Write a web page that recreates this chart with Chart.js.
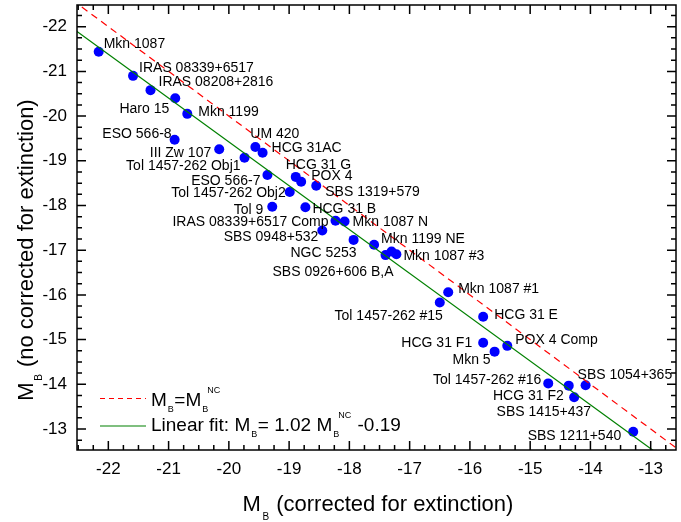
<!DOCTYPE html>
<html>
<head>
<meta charset="utf-8">
<script src="https://cdn.jsdelivr.net/npm/chart.js@4.4.1/dist/chart.umd.min.js"></script>
<style>
html,body{margin:0;padding:0;background:#fff;}
canvas{display:block;}
</style>
</head>
<body>
<canvas id="c" width="681" height="522"></canvas>
<script>
// ---------------- DATA ----------------
const galaxyNames = [
  "Mkn 1087", "IRAS 08339+6517", "IRAS 08208+2816", "Haro 15", "Mkn 1199",
  "ESO 566-8", "III Zw 107", "UM 420", "HCG 31AC", "Tol 1457-262 Obj1",
  "ESO 566-7", "HCG 31 G", "POX 4", "SBS 1319+579", "Tol 1457-262 Obj2",
  "Tol 9", "HCG 31 B", "IRAS 08339+6517 Comp", "Mkn 1087 N", "SBS 0948+532",
  "NGC 5253", "Mkn 1199 NE", "SBS 0926+606 B,A", "", "Mkn 1087 #3",
  "Mkn 1087 #1", "Tol 1457-262 #15", "HCG 31 E", "HCG 31 F1", "Mkn 5",
  "POX 4 Comp", "Tol 1457-262 #16", "HCG 31 F2", "SBS 1415+437", "SBS 1054+365",
  "SBS 1211+540"
];
// M_B corrected for extinction (x)
const mbCorrected = [
  -22.16, -21.59, -21.30, -20.89, -20.69,
  -20.90, -20.16, -19.56, -19.44, -19.74,
  -19.36, -18.89, -18.80, -18.55, -18.99,
  -19.28, -18.73, -18.23, -18.08, -18.45,
  -17.93, -17.59, -17.40, -17.30, -17.22,
  -16.36, -16.50, -15.78, -15.78, -15.59,
  -15.38, -14.70, -14.36, -14.27, -14.08,
  -13.29
];
// M_B not corrected for extinction (y)
const mbUncorrected = [
  -21.44, -20.90, -20.58, -20.40, -20.05,
  -19.47, -19.26, -19.31, -19.18, -19.07,
  -18.68, -18.64, -18.53, -18.44, -18.30,
  -17.97, -17.96, -17.66, -17.64, -17.44,
  -17.23, -17.12, -16.89, -16.97, -16.91,
  -16.06, -15.83, -15.51, -14.93, -14.73,
  -14.86, -14.02, -13.97, -13.71, -13.98,
  -12.94
];
// Reference lines (end points)
const identityLineX = [-22.6, -12.5];
const identityLineY = [-22.6, -12.5];
const fitLineX = [-22.6, -12.5];
const fitLineY = [-21.97, -12.07];
// Tick labels
const xTickValues = [-22, -21, -20, -19, -18, -17, -16, -15, -14, -13];
const yTickValues = [-22, -21, -20, -19, -18, -17, -16, -15, -14, -13];

// ---------------- LABEL PLACEMENT (pixels relative to point) ----------------
const labelPlacement = [
  ['l', 5, -9], ['l', 6, -9], ['l', 8, -9], ['r', -6, 10], ['l', 11, -3],
  ['r', -3, -7], ['r', -8, 3], ['l', -5, -14], ['l', 9, -6], ['r', -4, 7],
  ['r', -7, 5], ['l', -10, -13], ['l', 10, -7], ['l', 9, 5], ['r', -4, 0],
  ['r', -9, 2], ['l', 7, 1], ['r', -7, 0], ['l', 8, 0], ['r', -4, 6],
  ['r', 3, 12], ['l', 7, -7], ['r', 8, 16], ['l', 0, 0], ['l', 7, 1],
  ['l', 10, -4], ['r', 3, 13], ['l', 11, -3], ['r', -11, -1], ['r', -4, 7],
  ['l', 8, -7], ['r', -7, -4], ['r', -5, 10], ['r', 17, 14], ['l', -8, -11],
  ['r', -12, 3]
];

const FONT = '"Liberation Sans", Arial, Helvetica, sans-serif';

function toXY(xs, ys) { return xs.map((x, i) => ({ x: x, y: ys[i] })); }

function richWidth(ctx, parts) {
  let w = 0;
  for (const p of parts) {
    ctx.font = p.size + 'px ' + FONT;
    w += ctx.measureText(p.t).width + (p.pre || 0);
  }
  return w;
}
function drawRich(ctx, parts, x, y) {
  let cx = x;
  for (const p of parts) {
    ctx.font = p.size + 'px ' + FONT;
    cx += p.pre || 0;
    ctx.fillText(p.t, cx, y + (p.dy || 0));
    if (!p.noAdvance) cx += ctx.measureText(p.t).width;
  }
  return cx;
}

const decorPlugin = {
  id: 'decor',
  afterDatasetsDraw(chart) {
    const ctx = chart.ctx;
    const a = chart.chartArea;
    const xs = chart.scales.x, ys = chart.scales.y;
    ctx.save();
    ctx.strokeStyle = '#000';
    ctx.lineWidth = 1.5;
    // ticks, inward on all four sides, every 0.25
    const xMin = Math.ceil(xs.min * 4) / 4;
    for (let v = xMin; v <= xs.max + 1e-9; v += 0.25) {
      const px = xs.getPixelForValue(v);
      const major = Math.abs(v - Math.round(v)) < 1e-6;
      const L = major ? 9 : 5;
      ctx.beginPath();
      ctx.moveTo(px, a.bottom); ctx.lineTo(px, a.bottom - L);
      ctx.moveTo(px, a.top); ctx.lineTo(px, a.top + L);
      ctx.stroke();
    }
    const yMin = Math.ceil(ys.min * 4) / 4;
    for (let v = yMin; v <= ys.max + 1e-9; v += 0.25) {
      const py = ys.getPixelForValue(v);
      const major = Math.abs(v - Math.round(v)) < 1e-6;
      const L = major ? 9 : 5;
      ctx.beginPath();
      ctx.moveTo(a.left, py); ctx.lineTo(a.left + L, py);
      ctx.moveTo(a.right, py); ctx.lineTo(a.right - L, py);
      ctx.stroke();
    }
    // frame
    ctx.strokeRect(a.left, a.top, a.right - a.left, a.bottom - a.top);

    // point labels
    const meta = chart.getDatasetMeta(2);
    ctx.fillStyle = '#000';
    ctx.font = '14px ' + FONT;
    ctx.textBaseline = 'middle';
    meta.data.forEach((pt, i) => {
      const name = galaxyNames[i];
      if (!name) return;
      const pl = labelPlacement[i];
      ctx.textAlign = pl[0] === 'l' ? 'left' : 'right';
      ctx.fillText(name, pt.x + pl[1], pt.y + pl[2] + 1);
    });
    ctx.textAlign = 'left';
    ctx.textBaseline = 'alphabetic';

    // legend
    ctx.lineWidth = 1.2;
    ctx.strokeStyle = '#ff0000';
    ctx.setLineDash([5, 4]);
    ctx.beginPath(); ctx.moveTo(100, 398.5); ctx.lineTo(146, 398.5); ctx.stroke();
    ctx.setLineDash([]);
    ctx.strokeStyle = '#008000';
    ctx.beginPath(); ctx.moveTo(100, 426); ctx.lineTo(146, 426); ctx.stroke();

    ctx.fillStyle = '#000';
    let cx = drawRich(ctx, [
      { t: 'M', size: 19 },
      { t: 'B', size: 9, dy: 6, pre: 1 },
      { t: '=M', size: 19, pre: 0.5 },
      { t: 'B', size: 9, dy: 6, pre: 1, noAdvance: true }
    ], 151, 406);
    drawRich(ctx, [{ t: 'NC', size: 9, dy: -13, pre: 5 }], cx, 406);

    cx = drawRich(ctx, [
      { t: 'Linear fit: M', size: 19 },
      { t: 'B', size: 9, dy: 6, pre: 1 },
      { t: '= 1.02 M', size: 19, pre: 0.5 },
      { t: 'B', size: 9, dy: 6, pre: 1, noAdvance: true }
    ], 151, 431);
    cx = drawRich(ctx, [{ t: 'NC', size: 9, dy: -13, pre: 5 }], cx, 431);
    drawRich(ctx, [{ t: ' -0.19', size: 19, pre: 1 }], cx, 431);

    // axis titles
    const xParts = [
      { t: 'M', size: 22 },
      { t: 'B', size: 10, dy: 9, pre: 1.5 },
      { t: ' (corrected for extinction)', size: 22, pre: 1 }
    ];
    const wX = richWidth(ctx, xParts);
    drawRich(ctx, xParts, (a.left + a.right) / 2 + 1.5 - wX / 2, 511);

    const yParts = [
      { t: 'M', size: 22 },
      { t: 'B', size: 10, dy: 9, pre: 1.5 },
      { t: ' (no corrected for extinction)', size: 22, pre: 1 }
    ];
    const wY = richWidth(ctx, yParts);
    ctx.save();
    ctx.translate(33, 250);
    ctx.rotate(-Math.PI / 2);
    drawRich(ctx, yParts, -wY / 2, 0);
    ctx.restore();

    ctx.restore();
  }
};

new Chart(document.getElementById('c'), {
  type: 'scatter',
  data: {
    datasets: [
      {
        type: 'line',
        label: 'M_B = M_B^NC',
        data: toXY(identityLineX, identityLineY),
        borderColor: '#ff0000',
        borderWidth: 1.2,
        borderDash: [7, 5],
        pointRadius: 0,
        fill: false,
        order: 0
      },
      {
        type: 'line',
        label: 'Linear fit',
        data: toXY(fitLineX, fitLineY),
        borderColor: '#008000',
        borderWidth: 1.2,
        pointRadius: 0,
        fill: false,
        order: 1
      },
      {
        type: 'scatter',
        label: 'Galaxies',
        data: toXY(mbCorrected, mbUncorrected),
        pointRadius: 5,
        pointBackgroundColor: '#0000ff',
        pointBorderWidth: 0,
        pointBorderColor: '#0000ff',
        order: 2
      }
    ]
  },
  options: {
    responsive: false,
    animation: false,
    devicePixelRatio: 1,
    layout: { padding: { top: 5, right: 1, left: 0, bottom: 0 } },
    plugins: { legend: { display: false }, tooltip: { enabled: false } },
    scales: {
      x: {
        type: 'linear',
        position: 'bottom',
        min: -22.52,
        max: -12.58,
        grid: { display: false, drawTicks: false },
        border: { display: false },
        afterBuildTicks: (s) => { s.ticks = xTickValues.map(v => ({ value: v })); },
        ticks: {
          autoSkip: false,
          maxRotation: 0,
          padding: 9,
          color: '#000',
          font: { family: FONT, size: 17 },
          callback: (v) => String(v)
        },
        afterFit: (s) => { s.height = 72; s.paddingLeft = 0; s.paddingRight = 0; }
      },
      y: {
        type: 'linear',
        position: 'left',
        reverse: true,
        min: -22.485,
        max: -12.53,
        grid: { display: false, drawTicks: false },
        border: { display: false },
        afterBuildTicks: (s) => { s.ticks = yTickValues.map(v => ({ value: v })); },
        ticks: {
          autoSkip: false,
          padding: 10,
          color: '#000',
          font: { family: FONT, size: 17 },
          callback: (v) => String(v)
        },
        afterFit: (s) => { s.width = 77; s.paddingTop = 0; s.paddingBottom = 0; }
      }
    }
  },
  plugins: [decorPlugin]
});
</script>
</body>
</html>
